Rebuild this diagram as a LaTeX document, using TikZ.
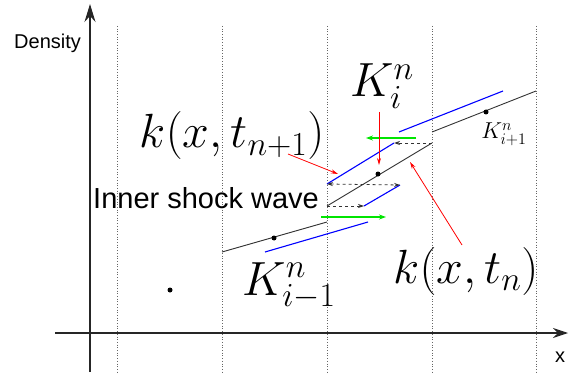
\RequirePackage{fix-cm}
\documentclass[tikz,border=0pt]{standalone}
\usepackage{fontspec}
\newfontfamily\arialfont{Liberation Sans}
\usetikzlibrary{arrows.meta}
\begin{document}
\begin{tikzpicture}[x=1pt,y=-1pt,
  gridline/.style={black!60, dotted, line width=0.7pt},
  axisline/.style={black!85, line width=1.2pt, -{Stealth[length=18pt,width=11pt,inset=6pt]}},
  sol/.style={black!80, line width=0.9pt},
  rec/.style={blue, line width=1.1pt},
  flux/.style={black!80, dashed, line width=0.8pt, -{Stealth[length=6pt,width=4pt]}},
  fluxboth/.style={black!80, dashed, line width=0.8pt, {Stealth[length=6pt,width=4pt]}-{Stealth[length=6pt,width=4pt]}},
  mov/.style={green!90!black, line width=1.1pt, -{Stealth[length=7pt,width=5pt]}},
  ptr/.style={red, line width=0.8pt, -{Stealth[length=7pt,width=4pt]}},
  biglabel/.style={inner sep=0pt, font=\fontsize{48}{56}\selectfont},
  smalllabel/.style={inner sep=0pt, font=\fontsize{23}{27}\selectfont},
  sanslabel/.style={inner sep=0pt, font=\arialfont\fontsize{29}{34}\selectfont},
  axlabel/.style={inner sep=0pt, font=\arialfont\fontsize{20}{24}\selectfont},
  dotmark/.style={circle, fill=black, inner sep=0pt, minimum size=5pt}]
\useasboundingbox (0,0) rectangle (572,374);

% grid lines
\foreach \gx/\gn in {117/g0,222/g1,327/g2,432/g3,536/g4} {
  \coordinate (\gn t) at (\gx,26);
  \coordinate (\gn b) at (\gx,374);
  \draw[gridline] (\gn t) -- (\gn b);
}

% axes
\coordinate (yb) at (90,372);
\coordinate (yt) at (90,4);
\coordinate (xl) at (55,333);
\coordinate (xr) at (568,333);
\draw[axisline] (yb) -- (yt);
\draw[axisline, -{Stealth[length=15pt,width=10pt,inset=5pt]}] (xl) -- (xr);
\node[axlabel, anchor=base west] (dens) at (14,49) {Density};
\node[axlabel, anchor=base west] (xlab) at (555,362) {x};

% black piecewise-linear solution
\coordinate (s1a) at (222,252); \coordinate (s1b) at (327,222);
\coordinate (s2a) at (327,206); \coordinate (s2b) at (432,143);
\coordinate (s3a) at (432,132); \coordinate (s3b) at (536,91);
\draw[sol] (s1a) -- (s1b);
\draw[sol] (s2a) -- (s2b);
\draw[sol] (s3a) -- (s3b);

% dots
\node[dotmark] (d0) at (170,290) {};
\node[dotmark] (d1) at (274,238) {};
\node[dotmark] (d2) at (378,174) {};
\node[dotmark] (d3) at (486,112) {};

% blue shifted segments
\coordinate (b1a) at (265,252); \coordinate (b1b) at (368,222);
\coordinate (b2a) at (327,184); \coordinate (b2b) at (394,143);
\coordinate (b3a) at (364,206); \coordinate (b3b) at (400,185);
\coordinate (b4a) at (399,132); \coordinate (b4b) at (503,91);
\draw[rec] (b1a) -- (b1b);
\draw[rec] (b2a) -- (b2b);
\draw[rec] (b3a) -- (b3b);
\draw[rec] (b4a) -- (b4b);

% dashed flux arrows
\draw[flux] (s2b) -- (b2b);
\draw[fluxboth] (b2a) -- (b3b);
\draw[flux] (s2a) -- (b3a);

% green arrows
\coordinate (gta) at (416,138); \coordinate (gtb) at (366,138);
\coordinate (gba) at (321,217); \coordinate (gbb) at (386,217);
\draw[mov] (gta) -- (gtb);
\draw[mov] (gba) -- (gbb);

% labels
\node[biglabel] (Ki) at (382,86) {$K_i^n$};
\node[smalllabel] (Kip) at (504,134) {$K_{i+1}^n$};
\node[biglabel] (Kim) at (289,286) {$K_{i-1}^n$};
\node[biglabel] (knp) at (232,136) {$k(x,t_{n+1})$};
\node[biglabel] (kn) at (466,271) {$k(x,t_n)$};
\node[sanslabel, anchor=base west] (isw) at (93,208) {Inner shock wave};

% red pointers
\coordinate (r1a) at (379,112); \coordinate (r1b) at (379,165);
\coordinate (r2a) at (288,154); \coordinate (r2b) at (338,174);
\coordinate (r3a) at (462,245); \coordinate (r3b) at (410,162);
\draw[ptr] (r1a) -- (r1b);
\draw[ptr] (r2a) -- (r2b);
\draw[ptr] (r3a) -- (r3b);
\end{tikzpicture}
\end{document}
